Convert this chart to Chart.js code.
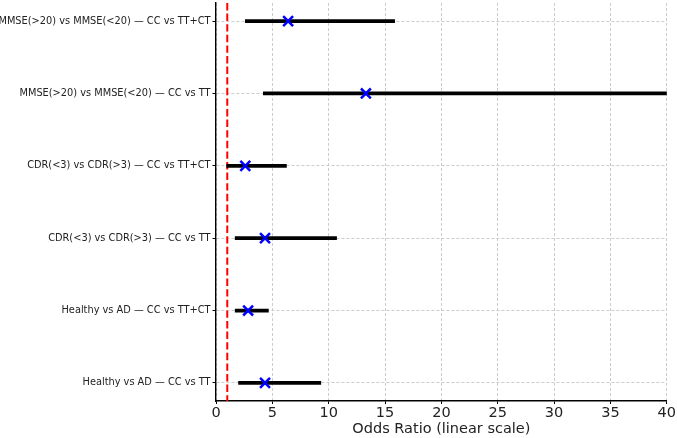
<!DOCTYPE html>
<html>
<head>
<meta charset="utf-8">
<script src="https://cdn.jsdelivr.net/npm/chart.js@4.4.1/dist/chart.umd.min.js"></script>
<style>
  html, body { margin: 0; padding: 0; background: #fff; }
  #caja { width: 677px; height: 438px; }
</style>
</head>
<body>
<div id="caja"><canvas id="myChart"></canvas></div>
<script>
// filas de arriba hacia abajo
const comparaciones = [
  "MMSE(>20) vs MMSE(<20) — CC vs TT+CT",
  "MMSE(>20) vs MMSE(<20) — CC vs TT",
  "CDR(<3) vs CDR(>3) — CC vs TT+CT",
  "CDR(<3) vs CDR(>3) — CC vs TT",
  "Healthy vs AD — CC vs TT+CT",
  "Healthy vs AD — CC vs TT"
];
const oddsRatio = [6.4, 13.3, 2.6, 4.35, 2.85, 4.35];
const icBajo = [2.6, 4.2, 0.95, 1.7, 1.7, 2.0];
const icAlto = [15.85, 42, 6.25, 10.7, 4.65, 9.3];
const lineaNula = 1;
const ticksX = [0, 5, 10, 15, 20, 25, 30, 35, 40];

Chart.defaults.font.family = "'DejaVu Sans', sans-serif";
Chart.defaults.color = "#222";

const intervalos = icBajo.map((bajo, i) => ({ x: [bajo, icAlto[i]], y: i }));
const puntos = oddsRatio.map((valor, i) => ({ x: valor, y: i }));
const referencia = [
  { x: lineaNula, y: -0.25 },
  { x: lineaNula, y: comparaciones.length - 0.75 }
];

// etiquetas del eje y dibujadas aparte para que no agreguen margen arriba
const etiquetasY = {
  id: "etiquetasY",
  afterDraw: (chart) => {
    const ctx = chart.ctx;
    const eje = chart.scales.y;
    ctx.save();
    ctx.font = "9.8px 'DejaVu Sans', sans-serif";
    ctx.fillStyle = "#222";
    ctx.textAlign = "right";
    ctx.textBaseline = "middle";
    comparaciones.forEach((texto, i) => {
      ctx.fillText(texto, eje.right - 5.5, eje.getPixelForValue(i));
    });
    ctx.restore();
  }
};

const config = {
  type: "bar",
  data: {
    datasets: [
      {
        type: "line",
        data: puntos,
        showLine: false,
        pointStyle: "crossRot",
        pointRadius: 7,
        pointBorderWidth: 2.5,
        borderColor: "#0000ff",
        backgroundColor: "#0000ff",
        order: 0
      },
      {
        data: intervalos,
        backgroundColor: "#000",
        barThickness: 3,
        order: 1
      },
      {
        type: "line",
        data: referencia,
        borderColor: "#ff0000",
        borderWidth: 2,
        borderDash: [7.4, 3.2],
        pointRadius: 0,
        order: 2
      }
    ]
  },
  plugins: [etiquetasY],
  options: {
    indexAxis: "y",
    responsive: true,
    maintainAspectRatio: false,
    animation: false,
    layout: { autoPadding: false, padding: { top: 3, right: 8, left: 0, bottom: 0 } },
    plugins: { legend: { display: false }, tooltip: { enabled: false } },
    scales: {
      x: {
        type: "linear",
        min: 0,
        max: 40,
        afterBuildTicks: (axis) => { axis.ticks = ticksX.map((v) => ({ value: v })); },
        afterFit: (axis) => { axis.height = 37; },
        ticks: { font: { size: 14.5 }, padding: 1, maxRotation: 0 },
        grid: { color: "#cccccc", tickColor: "#000", tickLength: 3, lineWidth: 1 },
        border: { color: "#000", width: 1.4, dash: [3, 2] },
        title: {
          display: true,
          text: "Odds Ratio (linear scale)",
          font: { size: 14.5 },
          padding: { top: 0, bottom: 0 }
        }
      },
      y: {
        type: "linear",
        reverse: true,
        offset: false,
        min: -0.25,
        max: comparaciones.length - 0.75,
        afterBuildTicks: (axis) => { axis.ticks = comparaciones.map((c, i) => ({ value: i })); },
        afterFit: (axis) => { axis.width = 216; },
        ticks: { display: false },
        grid: { offset: false, color: "#cccccc", tickColor: "#000", tickLength: 3.5, lineWidth: 1 },
        border: { color: "#000", width: 1.4, dash: [3, 2] }
      }
    }
  }
};

const miChart = document.querySelector("#myChart");
new Chart(miChart, config);
</script>
</body>
</html>
